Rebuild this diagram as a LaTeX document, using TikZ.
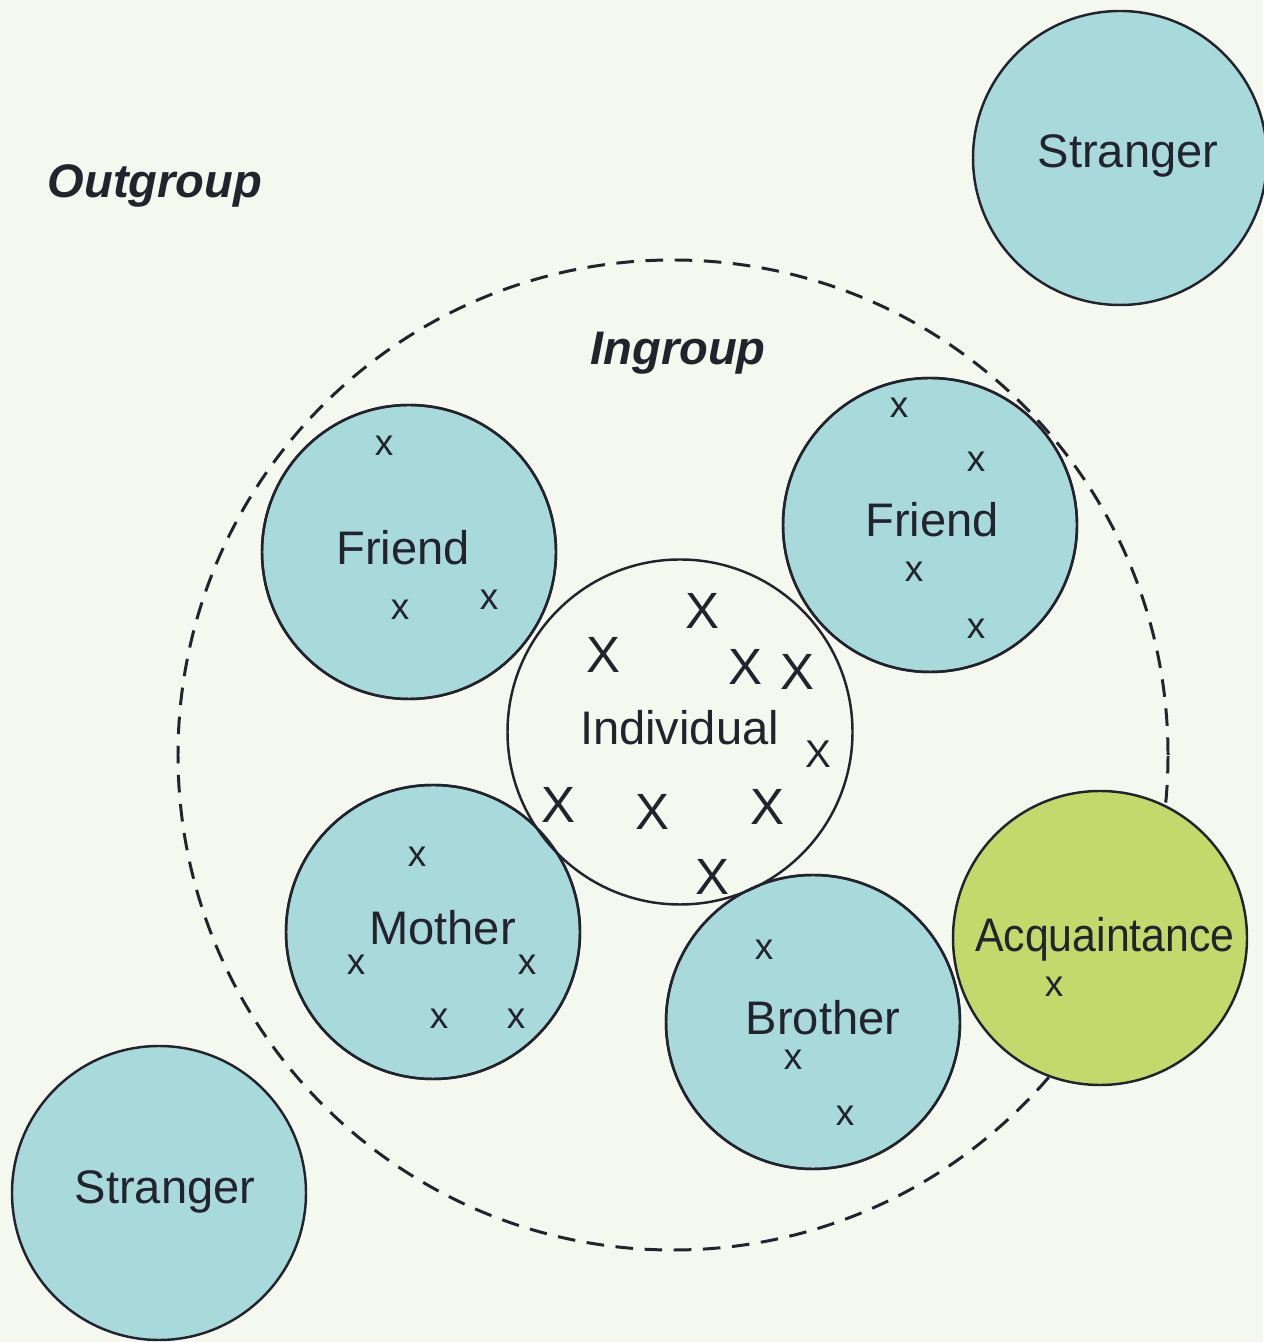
\documentclass[tikz,border=0pt]{standalone}
\usepackage{fontspec}
\setmainfont{Liberation Sans}
\usetikzlibrary{positioning}
\definecolor{paper}{HTML}{F5F8EF}
\definecolor{kin}{HTML}{A8DADB}
\definecolor{acqgreen}{HTML}{C4D96C}
\definecolor{ink}{HTML}{23232E}

\begin{document}
\begin{tikzpicture}[color=ink, line width=.7pt,
	member/.style={circle,draw=ink,fill=kin,inner sep=0pt,minimum size=2.94cm},
	self/.style={circle,draw=ink,fill=paper,inner sep=0pt,minimum size=3.45cm},
	ring/.style={circle,draw=ink,line width=.85pt,dash pattern=on 5pt off 3.3pt,inner sep=0pt,minimum size=9.9cm},
	who/.style={inner sep=0pt,anchor=base,font=\fontsize{13.4}{15}\selectfont},
	heading/.style={inner sep=0pt,anchor=base,font=\fontsize{13.4}{16}\selectfont\bfseries\itshape},
	smallx/.style={inner sep=0pt,font=\fontsize{10.5}{12}\selectfont},
	bigx/.style={inner sep=0pt,font=\fontsize{14.5}{16}\selectfont}]
	\path[use as bounding box,fill=paper] (0,0) rectangle (12.63,13.42);
	\node[ring] (ingroup) at (6.73,5.87) {};
	\node[member] (strangerT) at (11.20,11.84) {};
	\node[member] (strangerB) at (1.59,1.49) {};
	\node[member] (friendL) at (4.09,7.90) {};
	\node[member] (friendR) at (9.30,8.17) {};
	\node[member] (mother) at (4.33,4.10) {};
	\node[member] (brother) at (8.13,3.20) {};
	\node[member,fill=acqgreen] (acq) at (11.00,4.04) {};
	\node[self] (individual) at (6.80,6.10) {};
	\foreach \n in {friendL,friendR,mother,brother}
		\draw (\n.center) circle (1.47);

	\node[heading] (outgroupText) at (1.55,11.44) {Outgroup};
	\node[heading] (ingroupText) at (6.78,9.775) {Ingroup};
	\node[who] (strangerTText) at (11.28,11.745) {Stranger};
	\node[who] (strangerBText) at (1.65,1.385) {Stranger};
	\node[who] (friendLText) at (4.03,7.775) {Friend};
	\node[who] (friendRText) at (9.32,8.05) {Friend};
	\node[who] (individualText) at (6.795,5.97) {Individual};
	\node[who] (motherText) at (4.425,3.97) {Mother};
	\node[who] (brotherText) at (8.23,3.075) {Brother};
	\node[who] (acqText) at (11.05,3.905) {\scalebox{0.91}[1]{Acquaintance}};

	\foreach \p [count=\i] in {(3.84,8.96),(4.00,7.32),(4.89,7.42),
		(8.99,9.34),(9.76,8.80),(9.14,7.70),(9.76,7.13),
		(4.17,4.85),(3.56,3.77),(5.27,3.77),(4.39,3.23),(5.16,3.23),
		(7.64,3.92),(7.93,2.82),(8.45,2.26),(10.54,3.55)}
		\node[smallx] (x\i) at \p {x};
	\foreach \p [count=\i] in {(7.02,7.31),(6.03,6.87),(7.45,6.75),(7.97,6.70),
		(5.58,5.37),(6.52,5.30),(7.67,5.35),(7.12,4.65)}
		\node[bigx] (X\i) at \p {X};
	\node[bigx,font=\fontsize{11}{13}\selectfont] (X9) at (8.18,5.88) {X};
\end{tikzpicture}
\end{document}
